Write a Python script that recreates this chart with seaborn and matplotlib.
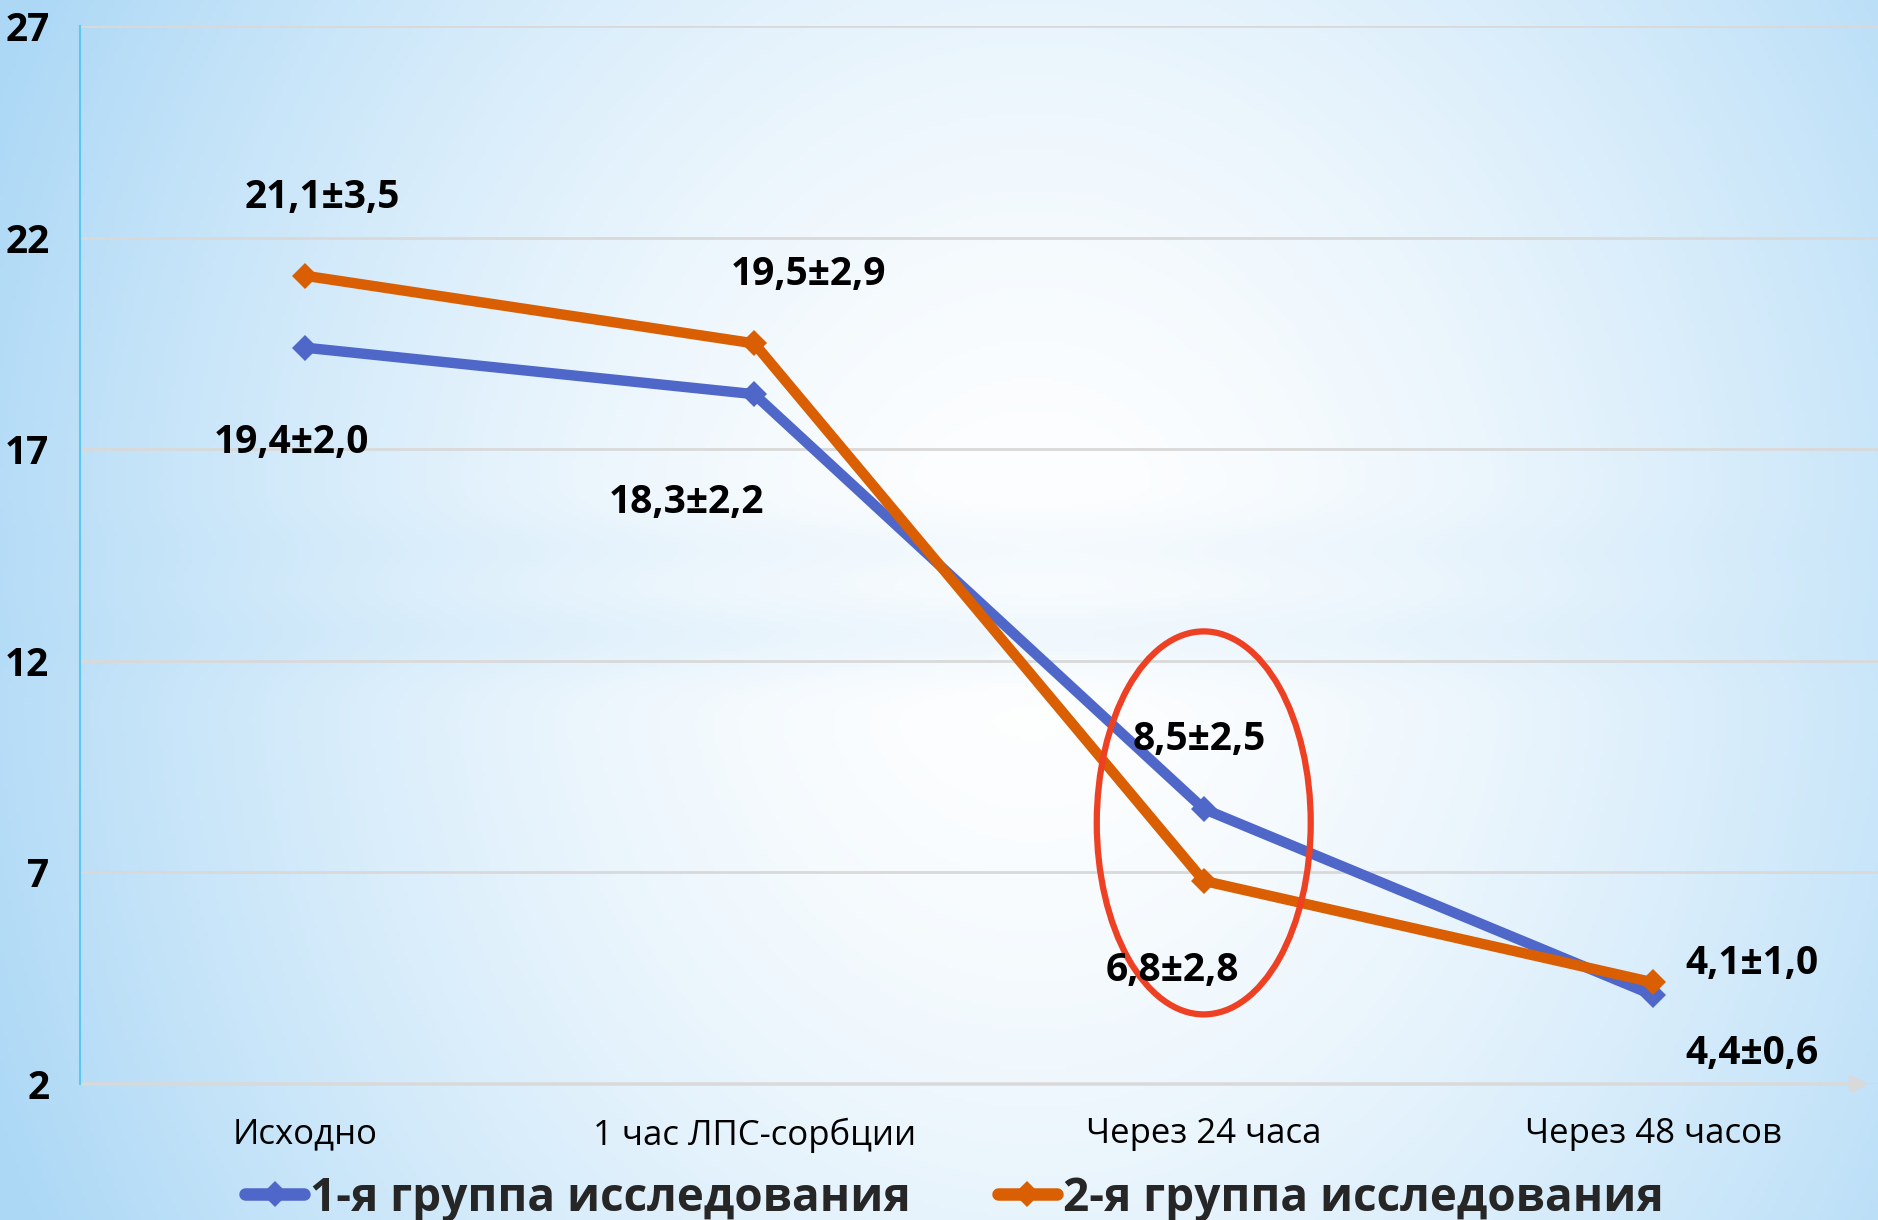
import numpy as np
import pandas as pd
import matplotlib
matplotlib.use("Agg")
import matplotlib.pyplot as plt
from matplotlib.patches import Ellipse
from matplotlib.lines import Line2D
import seaborn as sns

categories = ["Исходно", "1 час ЛПС-сорбции", "Через 24 часа", "Через 48 часов"]
group1_name = "1-я группа исследования"
group2_name = "2-я группа исследования"
group1_values = [19.4, 18.3, 8.5, 4.1]
group2_values = [21.1, 19.5, 6.8, 4.4]
label_texts = ["21,1±3,5", "19,4±2,0", "19,5±2,9", "18,3±2,2",
               "8,5±2,5", "6,8±2,8", "4,1±1,0", "4,4±0,6"]
label_x = [0.04, -0.03, 1.12, 0.85, 1.99, 1.93, 3.22, 3.22]
label_y = [22.94, 17.15, 21.12, 15.73, 10.13, 4.69, 4.84, 2.71]
y_ticks = [2, 7, 12, 17, 22, 27]

blue = "#4F67C9"
orange = "#D95F02"

sns.set_theme(style="white")
plt.rcParams["font.family"] = ["Open Sans", "DejaVu Sans"]

W, H = 1878, 1220
fig = plt.figure(figsize=(W / 100, H / 100), dpi=100)

# background gradient
bg = fig.add_axes([0, 0, 1, 1], zorder=-10)
bg.axis("off")
yy, xx = np.mgrid[0:1:300j, 0:1:460j]
r = np.sqrt(((xx - 0.55) / 0.6) ** 2 + ((yy - 0.5) / 1.1) ** 2)
t = np.clip(r, 0, 1) ** 1.6
band = 0.18 * np.exp(-((yy - 0.52) / 0.035) ** 2) + 0.12 * np.exp(-((yy - 0.45) / 0.03) ** 2)
band *= np.exp(-((xx - 0.5) / 0.35) ** 2)
t = np.clip(t + band, 0, 1)
edge = np.array([172, 216, 246]) / 255.0
white = np.array([1.0, 1.0, 1.0])
img = white[None, None, :] * (1 - t[..., None]) + edge[None, None, :] * t[..., None]
bg.imshow(img, aspect="auto", extent=[0, 1, 0, 1], origin="upper")
bg.set_xlim(0, 1)
bg.set_ylim(0, 1)

ax = fig.add_axes([80 / W, 1 - 1084 / H, (W - 80) / W, (1084 - 26) / H])
ax.set_facecolor((1, 1, 1, 0))

pos = np.arange(len(categories))
df = pd.DataFrame({
    "pos": np.concatenate([pos, pos]),
    "value": group1_values + group2_values,
    "group": [group1_name] * len(pos) + [group2_name] * len(pos),
})
sns.lineplot(data=df, x="pos", y="value", hue="group",
             palette={group1_name: blue, group2_name: orange},
             marker="D", markersize=13, markeredgewidth=0,
             linewidth=7.5, legend=False, ax=ax, zorder=3)
for ln in ax.get_lines():
    ln.set_solid_joinstyle("round")
    ln.set_solid_capstyle("round")

ax.set_xlim(-0.5, 3.5)
ax.set_ylim(2, 27)
ax.set_yticks(y_ticks)
ax.set_yticklabels([str(v) for v in y_ticks], fontsize=28, fontweight="bold", color="black")
ax.set_xticks(pos)
ax.set_xticklabels(categories, fontsize=25, color="black")
ax.tick_params(axis="y", length=0, pad=22)
ax.tick_params(axis="x", length=0, pad=24)
ax.set_xlabel("")
ax.set_ylabel("")
ax.grid(axis="y", color="#D9D9D9", linewidth=2)
ax.grid(axis="x", visible=False)
for s in ["top", "right", "bottom"]:
    ax.spines[s].set_visible(False)
ax.spines["left"].set_color("#5CC8F2")
ax.spines["left"].set_linewidth(1.5)
ax.annotate("", xy=(3.485, 2), xytext=(-0.5, 2), xycoords="data",
            arrowprops=dict(arrowstyle="-|>", color="#D9D9D9", lw=2.5,
                            mutation_scale=25), annotation_clip=False, zorder=2)

for txt, x, y in zip(label_texts, label_x, label_y):
    ax.text(x, y, txt, ha="center", va="center", fontsize=28,
            fontweight="bold", color="black", zorder=5)

ax.add_patch(Ellipse((2, 8.17), 0.476, 9.05, fill=False,
                     edgecolor="#EE4123", linewidth=4.5, zorder=4))

handles = [Line2D([0], [0], color=blue, lw=9, marker="D", markersize=13,
                  markeredgewidth=0, solid_capstyle="round"),
           Line2D([0], [0], color=orange, lw=9, marker="D", markersize=13,
                  markeredgewidth=0, solid_capstyle="round")]
fig.legend(handles, [group1_name, group2_name], loc="center",
           bbox_to_anchor=(0.508, 0.018), ncol=2, frameon=False,
           prop={"size": 33, "weight": "bold"}, handlelength=1.3,
           handletextpad=0.12, columnspacing=1.9)

fig.savefig("out.png", dpi=100)
